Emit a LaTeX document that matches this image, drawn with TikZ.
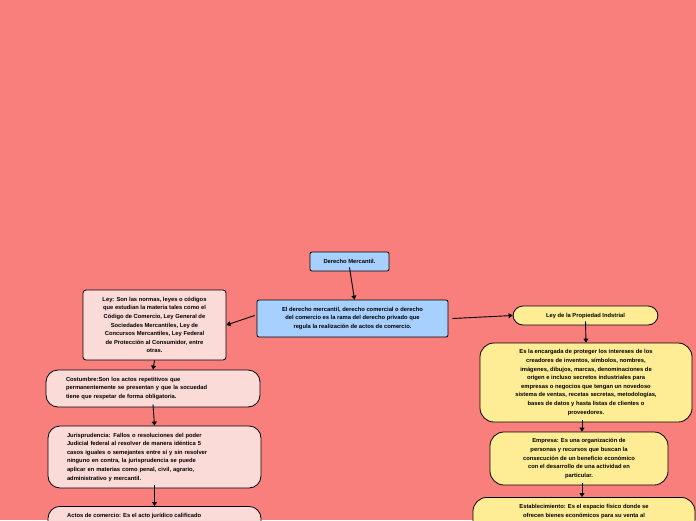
\documentclass[tikz,border=0pt]{standalone}
\usepackage{fontspec}
\setmainfont{Liberation Sans}
\usetikzlibrary{arrows.meta}
\definecolor{bgc}{RGB}{249,127,125}
\definecolor{bluec}{RGB}{168,208,255}
\definecolor{pinkc}{RGB}{250,219,216}
\definecolor{yelc}{RGB}{255,237,150}
\begin{document}
\begin{tikzpicture}[x=1pt,y=-1pt,
  box/.style={draw=black,line width=0.8pt,font=\bfseries\fontsize{5.8}{8.6}\selectfont,align=center,inner sep=0pt},
  blue/.style={box,fill=bluec,rounded corners=2pt},
  pink/.style={box,fill=pinkc,rounded corners=3pt},
  yel/.style={box,fill=yelc,rounded corners=10pt},
  pil/.style={box,fill=pinkc,rounded corners=12pt},
  arr/.style={-{Triangle[length=4pt,width=5pt]},line width=0.9pt}]
\useasboundingbox (0,0) rectangle (696,520);
\fill[bgc] (0,0) rectangle (696,520);
\clip (0,0) rectangle (696,520);
\node[blue,minimum width=79pt,minimum height=19pt] (dm) at (349.5,261.5) {Derecho Mercantil.};
\node[blue,minimum width=191pt,minimum height=37pt] (main) at (352.5,318.5) {El derecho mercantil, derecho comercial o derecho\\del comercio es la rama del derecho privado que\\regula la realización de actos de comercio.};
\node[pink,minimum width=143pt,minimum height=70pt] (ley) at (154.5,325) {Ley: Son las normas, leyes o códigos\\que estudian la materia tales como el\\Código de Comercio, Ley General de\\Sociedades Mercantiles, Ley de\\Concursos Mercantiles, Ley Federal\\de Protección al Consumidor, entre\\otras.};
\node[pil,minimum width=214pt,minimum height=37pt,align=left,text width=174pt] (cos) at (153,388.5) {Costumbre:Son los actos repetitivos que\\permanentemente se presentan y que la socuedad\\tiene que respetar de forma obligatoria.};
\node[pil,minimum width=213pt,minimum height=62pt,align=left,text width=175pt] (jur) at (154.5,457) {Jurisprudencia: Fallos o resoluciones del poder\\Judicial federal al resolver de manera idéntica 5\\casos iguales o semejantes entre sí y sin resolver\\ninguno en contra, la jurisprudencia se puede\\aplicar en materias como penal, civil, agrario,\\administrativo y mercantil.};
\node[pil,minimum width=213pt,minimum height=40pt,anchor=north] (act) at (154.5,506) {};
\node[font=\bfseries\fontsize{5.8}{8.6}\selectfont,anchor=north west,inner sep=0pt] (actt) at (67,513) {Actos de comercio: Es el acto jurídico calificado};
\node[yel,minimum width=145pt,minimum height=19pt] (lp) at (585.5,315.5) {Ley de la Propiedad Indstrial};
\node[yel,minimum width=212pt,minimum height=79pt,rounded corners=14pt] (enc) at (586,382.5) {Es la encargada de proteger los intereses de los\\creadores de inventos, símbolos, nombres,\\imágenes, dibujos, marcas, denominaciones de\\origen e incluso secretos industriales para\\empresas o negocios que tengan un novedoso\\sistema de ventas, recetas secretas, metodologías,\\bases de datos y hasta listas de clientes o\\proveedores.};
\node[yel,minimum width=178pt,minimum height=53pt,rounded corners=14pt] (emp) at (579,458.5) {Empresa: Es una organización de\\personas y recursos que buscan la\\consecución de un beneficio económico\\con el desarrollo de una actividad en\\particular.};
\node[yel,minimum width=222pt,minimum height=50pt,rounded corners=14pt,anchor=north] (est) at (584,497) {};
\node[font=\bfseries\fontsize{5.8}{8.6}\selectfont,align=center,anchor=north,inner sep=0pt] (estt) at (584,504) {Establecimiento: Es el espacio físico donde se\\ofrecen bienes económicos para su venta al};
\draw[arr] ([yshift=4pt]dm.south) -- ([xshift=2pt]main.north);
\draw[arr] ([xshift=-2pt,yshift=3pt]main.west) -- (ley.east);
\draw[arr] ([xshift=4pt]main.east) -- (lp.west);
\draw[arr] (ley.south) -- (cos.north);
\draw[arr] ([yshift=3pt]cos.south) -- (jur.north);
\draw[arr] ([yshift=3pt]jur.south) -- (act.north);
\draw[arr] ([yshift=4pt]lp.south) -- (enc.north);
\draw[arr] ([xshift=-4pt,yshift=2pt]enc.south) -- ([xshift=3pt]emp.north);
\draw[arr] ([xshift=3pt,yshift=2pt]emp.south) -- ([xshift=-2pt]est.north);
\end{tikzpicture}
\end{document}
